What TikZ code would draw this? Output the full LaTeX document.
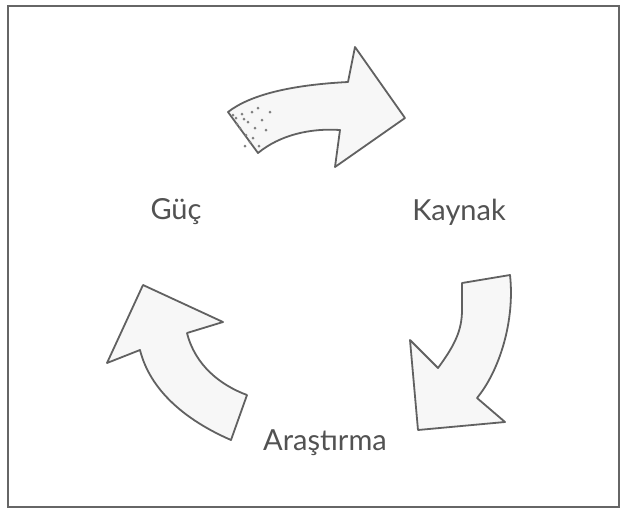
\documentclass[tikz,border=0pt]{standalone}
\usepackage{fontspec}
\setmainfont{Lato}
\begin{document}
\begin{tikzpicture}[x=1pt,y=-1pt,
  cyclearrow/.style={draw=black!62,line width=1.8pt,line join=round,fill=black!3},
  label/.style={font=\fontsize{29}{32}\selectfont,text=black!68,inner sep=0pt},
  speck/.style={fill=black!50}]
\useasboundingbox (0,0) rectangle (625,515);
\fill[white] (0,0) rectangle (625,515);
% frame
\draw[black!60,line width=1.6pt] (8,6) rectangle (619,507);
% top arrow (Güç -> Kaynak)
\draw[cyclearrow] (228,112) .. controls (250,95) and (290,85) .. (348,82)
  -- (355,47) -- (405,118) -- (335,167) -- (340,130)
  .. controls (310,128) and (280,135) .. (258,153) -- cycle;
% speckles in the tail of the top arrow
\foreach \p in {(236,118),(242,114),(248,122),(240,128),(252,112),(246,135),(255,128),(250,142),(262,120),(258,108),(266,130),(245,146),(270,112),(237,124),(233,115),(244,119),(253,138),(259,146)}
  \fill[speck] \p circle (1.5pt);
% right arrow (Kaynak -> Araştırma)
\draw[cyclearrow] (462,283) -- (510,275)
  .. controls (515,320) and (500,370) .. (477,398)
  -- (505,422) -- (418,430) -- (410,340) -- (438,368)
  .. controls (455,345) and (462,330) .. (462,310) -- cycle;
% left arrow (Araştırma -> Güç)
\draw[cyclearrow] (143,285) -- (223,322) -- (187,333)
  .. controls (195,365) and (220,385) .. (247,395)
  -- (231,440) .. controls (185,420) and (150,390) .. (140,350)
  -- (107,363) -- cycle;
% labels
\node[label] (guc) at (176,212) {Güç};
\node[label] (kaynak) at (459,212) {Kaynak};
\node[label] (arastirma) at (325,443) {Araştırma};
\end{tikzpicture}
\end{document}
